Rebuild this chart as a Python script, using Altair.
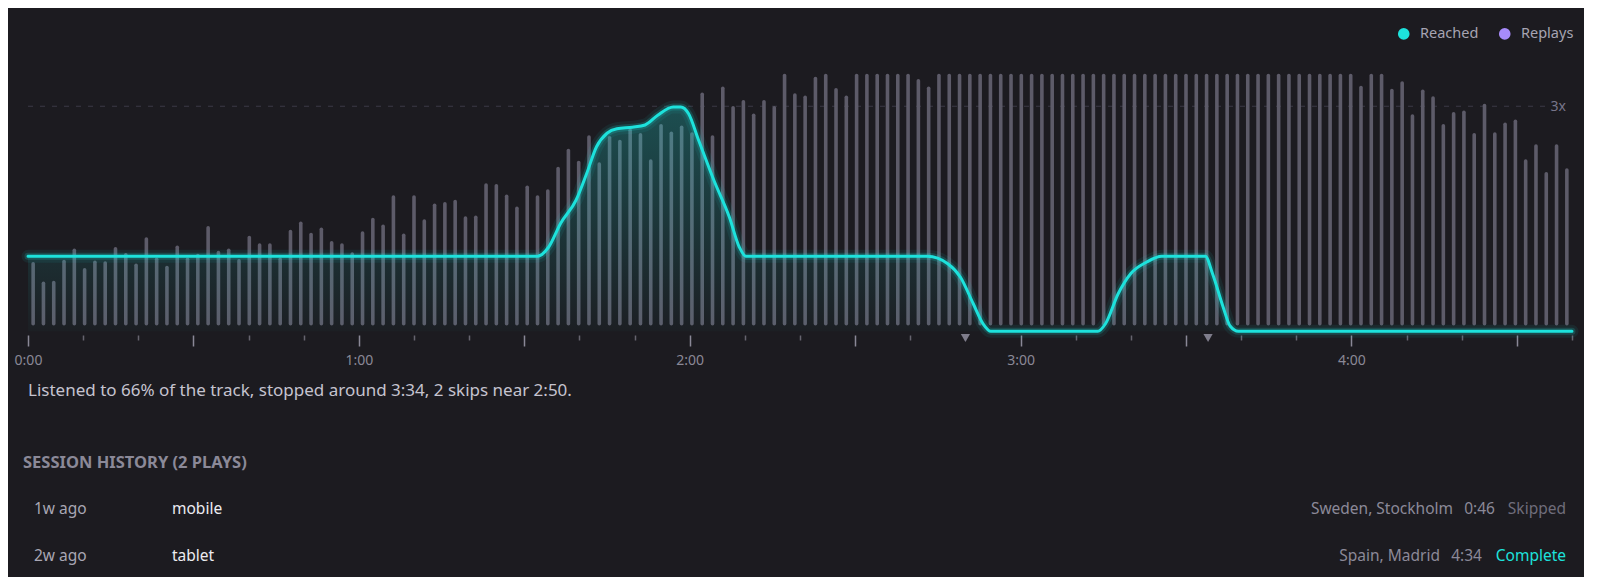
import altair as alt
import pandas as pd

FONT = "Noto Sans"
BG = "#1c1b20"
CYAN = "#1de2dc"
PURPLE = "#a78bfa"
BAR = "#5d5b69"

# ---------------- data ----------------
track_seconds = 280

bar_values = [
    0.90, 0.64, 0.65, 0.93, 1.08, 0.82, 0.92, 0.91, 1.10, 1.02,
    0.88, 1.23, 0.96, 0.85, 1.12, 0.96, 1.01, 1.38, 1.05, 1.08,
    0.94, 1.25, 1.15, 1.15, 0.96, 1.33, 1.44, 1.29, 1.36, 1.18,
    1.15, 1.03, 1.31, 1.49, 1.40, 1.79, 1.28, 1.79,
    1.47, 1.68, 1.70, 1.73, 1.51, 1.52, 1.95, 1.94, 1.80, 1.64,
    1.92, 1.79, 1.87, 2.17, 2.41, 2.25, 2.59, 2.23, 2.58, 2.53,
    2.68, 2.62, 2.27, 2.74, 2.64, 2.72, 2.63, 3.16, 2.59, 3.24,
    2.98, 3.06, 2.88, 3.06, 2.98, 3.41, 3.15,
    3.12, 3.37, 3.41, 3.22, 3.12, 3.41, 3.41, 3.41, 3.41, 3.41,
    3.41, 3.34, 3.24,
    3.41, 3.41, 3.41, 3.41, 3.41, 3.41, 3.41, 3.41, 3.41, 3.41,
    3.41, 3.41, 3.41, 3.41, 3.41, 3.41, 3.41, 3.41, 3.41, 3.41,
    3.41, 3.41, 3.41, 3.41, 3.41, 3.41, 3.41, 3.41, 3.41, 3.41,
    3.41, 3.41, 3.41, 3.41, 3.41, 3.41, 3.41, 3.41, 3.41, 3.41,
    3.41,
    3.25, 3.41, 3.41, 3.21, 3.31, 2.87, 3.20, 3.11, 2.74, 2.90,
    2.92, 2.62, 3.01, 2.63, 2.76, 2.80, 2.27, 2.47, 2.10, 2.47,
    2.15,
]
bar_base = 0.1

reach_t = [0, 92.4, 94.4, 96.6, 99.4, 101.3, 103.1, 105.0, 106.8, 109.6,
           111.9, 114.2, 117.0, 118.4, 119.8, 121.6, 124.4, 127.2, 129.0, 130.2,
           163.1, 166.8, 169.1, 171.4, 173.2, 174.6, 194.0, 195.4, 197.7, 200.0,
           202.8, 205.6, 213.5, 214.8, 216.7, 218.0, 219.5, 280]
reach_v = [1.0, 1.0, 1.12, 1.44, 1.75, 2.10, 2.46, 2.64, 2.70, 2.72,
           2.75, 2.88, 2.99, 2.99, 2.90, 2.55, 2.01, 1.52, 1.12, 1.0,
           1.0, 0.90, 0.72, 0.37, 0.10, 0.0, 0.0, 0.10, 0.50, 0.77,
           0.92, 1.0, 1.0, 0.77, 0.33, 0.07, 0.0, 0.0]

skip_t = [170, 214]
ref_level = 3
ref_label = "3x"

series_names = ["Reached", "Replays"]
series_colors = [CYAN, PURPLE]

summary = "Listened to 66% of the track, stopped around 3:34, 2 skips near 2:50."
history_title = "SESSION HISTORY (2 PLAYS)"
when_labels = ["1w ago", "2w ago"]
devices = ["mobile", "tablet"]
locations = ["Sweden, Stockholm", "Spain, Madrid"]
durations = ["0:46", "4:34"]
statuses = ["Skipped", "Complete"]

# ---------------- frames ----------------
bin_sec = track_seconds / len(bar_values)
bars = pd.DataFrame({"t": [(i + 0.5) * bin_sec for i in range(len(bar_values))],
                     "v": bar_values})
bars["base"] = bar_base
reach = pd.DataFrame({"t": reach_t, "v": reach_v, "series": "Reached"})
reach["zero"] = 0.0
skips = pd.DataFrame({"t": skip_t})
ref = pd.DataFrame({"v": [ref_level], "s": [ref_label]})

# ---------------- layout ----------------
W, H = 1544, 315
x_scale = alt.Scale(domain=[0, track_seconds], nice=False, zero=False)
y_scale = alt.Scale(domain=[-0.05, 4.15], nice=False, zero=False)

major_axis = alt.Axis(
    orient="bottom",
    values=list(range(0, track_seconds + 1, 30)),
    labelExpr="datum.value % 60 === 0 ? floor(datum.value / 60) + ':00' : ''",
    domain=False, grid=False, title=None,
    tickSize=11, tickColor="#8a8897", tickWidth=1.5,
    labelFont=FONT, labelFontSize=14, labelColor="#8a8896",
    labelPadding=7, labelFlush=False, labelOverlap=False,
)
minor_axis = alt.Axis(
    orient="bottom",
    values=[s for s in range(0, track_seconds + 1, 10) if s % 30 != 0],
    domain=False, grid=False, title=None, labels=False,
    tickSize=5, tickColor="#66646f", tickWidth=1.5,
)
X = alt.X("t:Q", scale=x_scale, axis=None)
X_major = alt.X("t:Q", scale=x_scale, axis=major_axis)
X_minor = alt.X("t:Q", scale=x_scale, axis=minor_axis)
Y = alt.Y("v:Q", scale=y_scale, axis=None)

dashed = alt.Chart(ref).mark_rule(
    color="#3b3a46", strokeWidth=1.2, strokeDash=[5, 7]
).encode(x=alt.value(0), x2=alt.value(1517), y=Y)

bar_layer = alt.Chart(bars).mark_rule(
    color=BAR, strokeWidth=3.6, strokeCap="round"
).encode(x=X_major, y=Y, y2="base:Q")

area_fill = {
    "gradient": "linear",
    "x1": 0, "x2": 0, "y1": 0, "y2": 1,
    "stops": [
        {"offset": 0, "color": "rgba(29,226,220,0.26)"},
        {"offset": 1, "color": "rgba(29,226,220,0.02)"},
    ],
}
area = alt.Chart(reach).mark_area(
    interpolate="monotone", color=area_fill
).encode(x=X, y=Y, y2="zero:Q")

glow_wide = alt.Chart(reach).mark_line(
    interpolate="monotone", color=CYAN, strokeWidth=13, opacity=0.07, strokeCap="round"
).encode(x=X_minor, y=Y)
glow_mid = alt.Chart(reach).mark_line(
    interpolate="monotone", color=CYAN, strokeWidth=7, opacity=0.18, strokeCap="round"
).encode(x=X, y=Y)
line = alt.Chart(reach).mark_line(
    interpolate="monotone", color=CYAN, strokeWidth=3, strokeCap="round", strokeJoin="round"
).encode(x=X, y=Y)

skip_marks = alt.Chart(skips).mark_point(
    shape="triangle-down", size=85, filled=True, color="#7f7d8b", opacity=1
).encode(x=X, y=alt.value(318))

three_x = alt.Chart(ref).mark_text(
    align="right", baseline="middle", font=FONT, fontSize=14, color="#77758a", dy=1
).encode(x=alt.value(1538), y=Y, text="s:N")

legend_layer = alt.Chart(reach).mark_circle(size=0, opacity=1).encode(
    x=X, y=Y,
    color=alt.Color(
        "series:N",
        scale=alt.Scale(domain=series_names, range=series_colors),
        legend=alt.Legend(
            orient="none", legendX=1368.5, legendY=6.5, direction="horizontal",
            title=None, symbolType="circle", symbolSize=135, symbolStrokeWidth=0,
            labelFont=FONT, labelFontSize=14.5, labelColor="#a6a4b2",
            labelOffset=9, columnPadding=19, padding=0,
        ),
    ),
)


def text_layer(s, x, y, size, color, align="left", weight="normal"):
    return alt.Chart(pd.DataFrame({"s": [s]})).mark_text(
        align=align, baseline="middle", font=FONT, fontSize=size,
        color=color, fontWeight=weight,
    ).encode(x=alt.value(x), y=alt.value(y), text="s:N")


texts = [
    text_layer(summary, 0, 371, 17, "#c5c3cf"),
    text_layer(history_title, -5, 443, 16.5, "#8b8998", weight="bold"),
]
row_y = [489, 536]
status_w = {"Skipped": 59, "Complete": 72}
dur_w = 30
gap = 12
right_x = 1538
for r in range(len(when_labels)):
    y = row_y[r]
    st = statuses[r]
    dur_right = right_x - status_w[st] - gap
    loc_right = dur_right - dur_w - gap
    texts += [
        text_layer(when_labels[r], 6, y, 15.5, "#a9a7b4"),
        text_layer(devices[r], 144, y, 15.5, "#ececf1"),
        text_layer(locations[r], loc_right, y, 15.5, "#8b8998", align="right"),
        text_layer(durations[r], dur_right, y, 15.5, "#8b8998", align="right"),
        text_layer(st, right_x, y, 15.5, CYAN if st == "Complete" else "#6f6d7b", align="right"),
    ]

chart = alt.layer(
    dashed, bar_layer, area, glow_wide, glow_mid, line, skip_marks, three_x, legend_layer, *texts
).resolve_scale(x="shared").resolve_axis(x="independent").properties(
    width=W, height=H, background=BG,
    padding={"left": 20, "top": 12, "right": 12, "bottom": 242},
    autosize=alt.AutoSizeParams(type="none"),
).configure_view(stroke=None)

chart.save("out.html", embed_options={"renderer": "svg", "actions": False})
